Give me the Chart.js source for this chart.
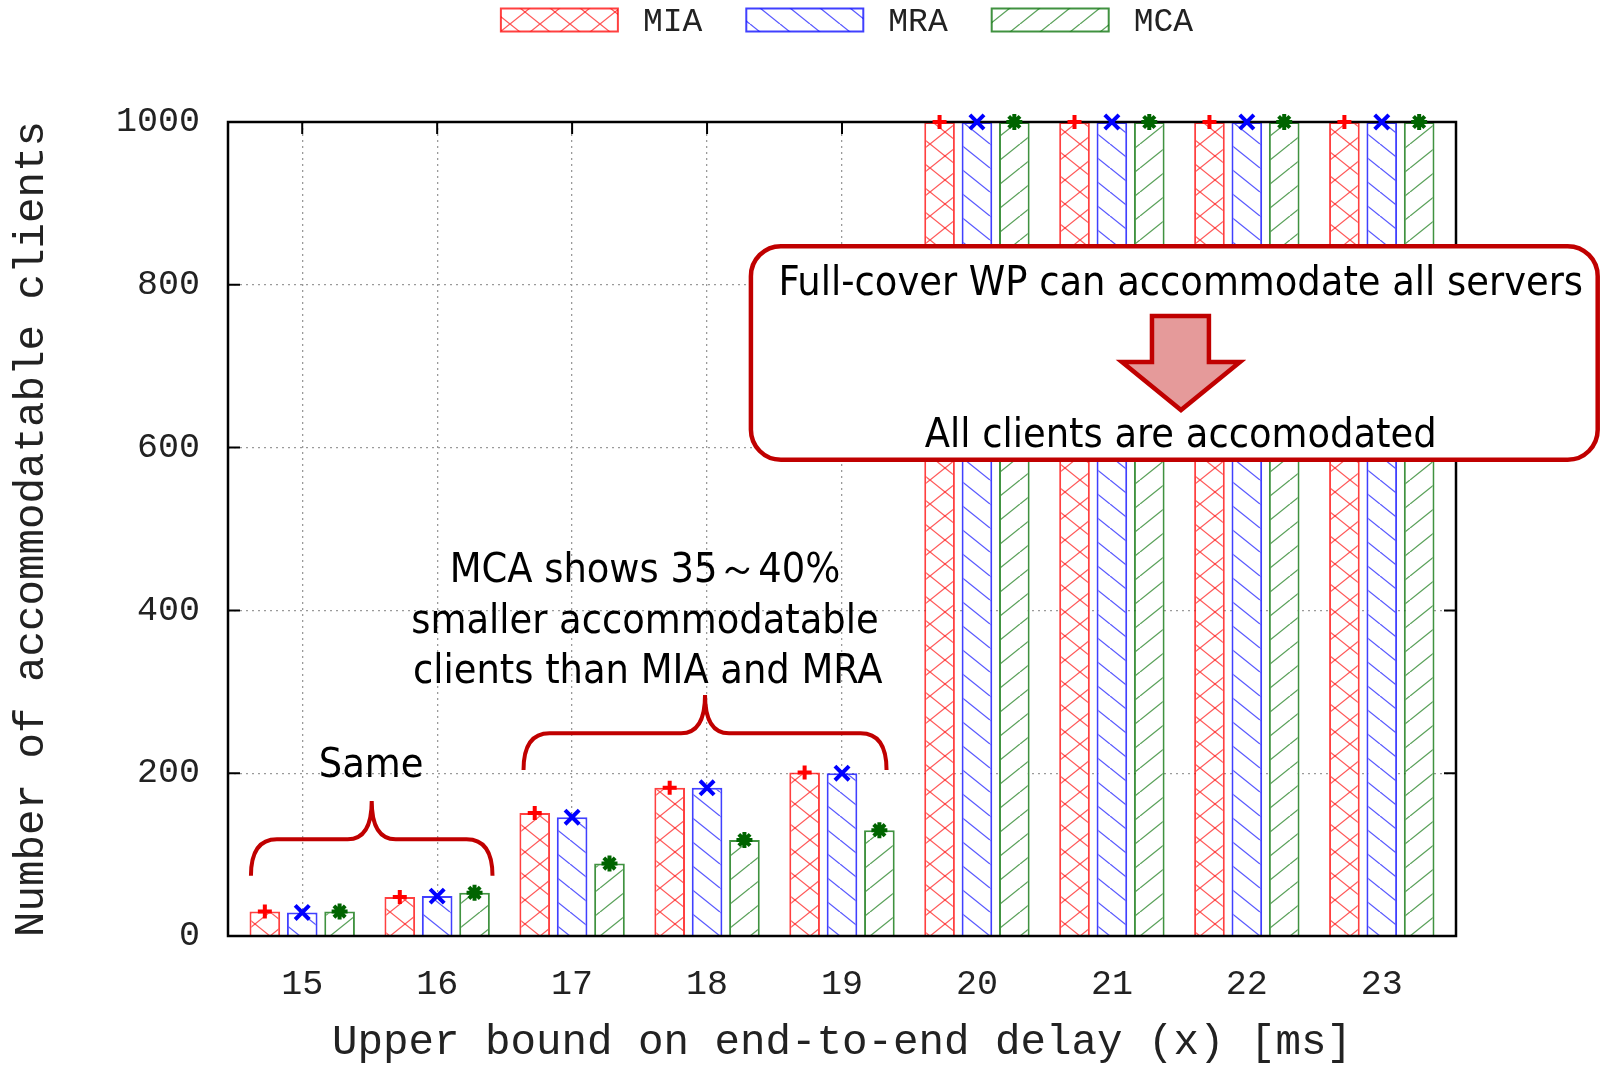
<!DOCTYPE html>
<html>
<head>
<meta charset="utf-8">
<script src="https://cdn.jsdelivr.net/npm/chart.js@4.4.1/dist/chart.umd.min.js"></script>
<style>
  html, body { margin: 0; padding: 0; background: #fff; }
  #wrap { width: 1606px; height: 1066px; }
</style>
</head>
<body>
<div id="wrap"><canvas id="delayCanvas" width="1606" height="1066"></canvas></div>
<script>
// data
const delays = [15, 16, 17, 18, 19, 20, 21, 22, 23];
const miaValues = [30, 48, 151, 182, 201, 1000, 1000, 1000, 1000];
const mraValues = [29, 49, 146, 182, 200, 1000, 1000, 1000, 1000];
const mcaValues = [30, 53, 89, 118, 130, 1000, 1000, 1000, 1000];
const yTicks = [0, 200, 400, 600, 800, 1000];
const seriesNames = ['MIA', 'MRA', 'MCA'];

const MONO = '"Courier New", "Liberation Mono", monospace';
const SANS = '"DejaVu Sans Condensed", "Liberation Sans Narrow", "Noto Sans", sans-serif';
const DARK_RED = '#c00000';

// gnuplot-like hatch fills (white under the lines)
function hatch(color, kind) {
    const w = 30, h = 24;
    const c = document.createElement('canvas');
    c.width = w; c.height = h;
    const g = c.getContext('2d');
    g.fillStyle = '#ffffff';
    g.fillRect(0, 0, w, h);
    g.strokeStyle = color;
    g.lineWidth = 1.3;
    const dirs = kind === 'cross' ? ['back', 'fwd'] : [kind];
    dirs.forEach(d => {
        for (let k = -1; k <= 1; k++) {
            g.beginPath();
            if (d === 'back') { g.moveTo(k * w, 0); g.lineTo(k * w + w, h); }
            else { g.moveTo(k * w, h); g.lineTo(k * w + w, 0); }
            g.stroke();
        }
    });
    return g.createPattern(c, 'repeat');
}

function points(values) {
    return delays.map((d, i) => ({x: d, y: values[i]}));
}

const markerStyles = [
    {pointStyle: 'cross', radius: 7, color: '#ff0000'},
    {pointStyle: 'crossRot', radius: 10, color: '#0000ff'},
    {pointStyle: 'star', radius: 8, color: '#006400'}
];

function brace(ctx, xl, xr, xc, yEnd, yMid, yTop) {
    const r1 = 26, r2 = 24;
    ctx.beginPath();
    ctx.moveTo(xl, yEnd);
    ctx.quadraticCurveTo(xl, yMid, xl + r1, yMid);
    ctx.lineTo(xc - r2, yMid);
    ctx.quadraticCurveTo(xc, yMid, xc, yTop);
    ctx.quadraticCurveTo(xc, yMid, xc + r2, yMid);
    ctx.lineTo(xr - r1, yMid);
    ctx.quadraticCurveTo(xr, yMid, xr, yEnd);
    ctx.stroke();
}

const gnuplotLook = {
    id: 'gnuplotLook',
    beforeDatasetsDraw(chart) {
        // inward ticks like gnuplot
        const {ctx, chartArea: a, scales: {x, y}} = chart;
        ctx.save();
        ctx.strokeStyle = '#000';
        ctx.lineWidth = 2;
        ctx.beginPath();
        yTicks.forEach(v => {
            const py = y.getPixelForValue(v);
            ctx.moveTo(a.left, py); ctx.lineTo(a.left + 12, py);
            ctx.moveTo(a.right, py); ctx.lineTo(a.right - 12, py);
        });
        delays.forEach(v => {
            const px = x.getPixelForValue(v);
            ctx.moveTo(px, a.bottom); ctx.lineTo(px, a.bottom - 12);
            ctx.moveTo(px, a.top); ctx.lineTo(px, a.top + 12);
        });
        ctx.stroke();
        ctx.restore();
    },
    afterDatasetsDraw(chart) {
        const {ctx, chartArea: a, scales: {x, y}} = chart;
        const px = v => x.getPixelForValue(v);
        const py = v => y.getPixelForValue(v);
        ctx.save();

        // frame
        ctx.strokeStyle = '#000';
        ctx.lineWidth = 2.5;
        ctx.strokeRect(a.left, a.top, a.right - a.left, a.bottom - a.top);

        // point markers on top of each bar
        chart.data.datasets.forEach((ds, i) => {
            const m = markerStyles[i];
            ctx.strokeStyle = m.color;
            ctx.fillStyle = m.color;
            ctx.lineWidth = 4;
            chart.getDatasetMeta(i).data.forEach(bar => {
                Chart.helpers.drawPoint(ctx, {pointStyle: m.pointStyle, radius: m.radius, borderWidth: 4, rotation: 0}, bar.x, bar.y);
            });
        });

        // braces
        ctx.strokeStyle = DARK_RED;
        ctx.lineWidth = 4;
        brace(ctx, px(14.62), px(16.41), px(15.515), py(74), py(119), py(166));
        brace(ctx, px(16.64), px(19.33), px(17.985), py(204), py(249), py(296));

        ctx.fillStyle = '#000';
        ctx.textAlign = 'center';
        ctx.textBaseline = 'alphabetic';
        ctx.font = '41px ' + SANS;
        ctx.fillText('Same', px(15.51), py(195));
        ctx.fillText('MCA shows 35～40%', px(17.54), py(435.5));
        ctx.fillText('smaller accommodatable', px(17.54), py(372));
        ctx.fillText('clients than MIA and MRA', px(17.56), py(310.5));

        // callout box
        const bx0 = px(18.325), bx1 = px(24.6), by0 = py(847.5), by1 = py(585);
        ctx.beginPath();
        ctx.roundRect(bx0, by0, bx1 - bx0, by1 - by0, 30);
        ctx.fillStyle = '#ffffff';
        ctx.fill();
        ctx.lineWidth = 4.5;
        ctx.strokeStyle = DARK_RED;
        ctx.stroke();

        // down arrow
        ctx.beginPath();
        ctx.moveTo(px(21.297), py(761.7));
        ctx.lineTo(px(21.719), py(761.7));
        ctx.lineTo(px(21.719), py(705.2));
        ctx.lineTo(px(21.949), py(705.2));
        ctx.lineTo(px(21.512), py(646.2));
        ctx.lineTo(px(21.075), py(705.2));
        ctx.lineTo(px(21.297), py(705.2));
        ctx.closePath();
        ctx.fillStyle = '#e59a9a';
        ctx.fill();
        ctx.lineWidth = 4.5;
        ctx.lineJoin = 'miter';
        ctx.stroke();

        ctx.fillStyle = '#000';
        ctx.font = '41px ' + SANS;
        ctx.fillText('Full-cover WP can accommodate all servers', px(21.51), py(787.5));
        ctx.fillText('All clients are accomodated', px(21.51), py(600.5));

        ctx.restore();
    },
    afterDraw(chart) {
        // legend on top, centered over the plot area
        const {ctx, chartArea: a} = chart;
        const boxW = 117, boxH = 23, gapText = 25, gapItem = 44, yc = 20;
        ctx.save();
        ctx.font = '33px ' + MONO;
        ctx.textBaseline = 'middle';
        ctx.textAlign = 'left';
        const items = chart.data.datasets.map(ds => ({ds, w: ctx.measureText(ds.label).width}));
        const total = items.reduce((s, it) => s + boxW + gapText + it.w, 0) + gapItem * (items.length - 1);
        let cx = (a.left + a.right) / 2 + 5 - total / 2;
        items.forEach(it => {
            ctx.fillStyle = it.ds.backgroundColor;
            ctx.fillRect(cx, yc - boxH / 2, boxW, boxH);
            ctx.strokeStyle = it.ds.borderColor;
            ctx.lineWidth = 2;
            ctx.strokeRect(cx, yc - boxH / 2, boxW, boxH);
            ctx.fillStyle = '#222';
            ctx.fillText(it.ds.label, cx + boxW + gapText, yc + 2);
            cx += boxW + gapText + it.w + gapItem;
        });
        ctx.restore();
    }
};

new Chart(document.getElementById('delayCanvas'), {
    type: 'bar',
    data: {
        datasets: [
            {
                label: seriesNames[0],
                data: points(miaValues),
                backgroundColor: hatch('rgba(255, 0, 0, 0.65)', 'cross'),
                borderColor: 'rgba(255, 0, 0, 0.75)',
                borderWidth: 2
            },
            {
                label: seriesNames[1],
                data: points(mraValues),
                backgroundColor: hatch('rgba(0, 0, 255, 0.65)', 'back'),
                borderColor: 'rgba(0, 0, 255, 0.75)',
                borderWidth: 2
            },
            {
                label: seriesNames[2],
                data: points(mcaValues),
                backgroundColor: hatch('rgba(0, 110, 0, 0.65)', 'fwd'),
                borderColor: 'rgba(0, 110, 0, 0.75)',
                borderWidth: 2
            }
        ]
    },
    options: {
        responsive: false,
        animation: false,
        categoryPercentage: 0.831,
        barPercentage: 0.82,
        layout: {padding: {top: 122, right: 150, bottom: 0, left: 0}},
        plugins: {
            legend: {display: false},
            tooltip: {enabled: false}
        },
        scales: {
            x: {
                type: 'linear',
                offset: false,
                min: 14.45,
                max: 23.55,
                afterBuildTicks: s => { s.ticks = delays.map(v => ({value: v})); },
                afterFit: s => { s.height = 130; },
                ticks: {
                    color: '#222',
                    font: {family: MONO, size: 35},
                    padding: 28,
                    maxRotation: 0,
                    callback: v => String(v)
                },
                grid: {color: '#9a9a9a', lineWidth: 1.3, drawTicks: false, offset: false},
                border: {display: false, dash: [2, 4]},
                title: {
                    display: true,
                    text: 'Upper bound on end-to-end delay (x) [ms]',
                    color: '#222',
                    font: {family: MONO, size: 42.5, lineHeight: 1},
                    padding: {top: 0, bottom: 2}
                }
            },
            y: {
                min: 0,
                max: 1000,
                afterBuildTicks: s => { s.ticks = yTicks.map(v => ({value: v})); },
                afterFit: s => { s.width = 228; },
                ticks: {
                    color: '#222',
                    font: {family: MONO, size: 35},
                    padding: 28,
                    callback: v => String(v)
                },
                grid: {color: '#9a9a9a', lineWidth: 1.3, drawTicks: false},
                border: {display: false, dash: [2, 4]},
                title: {
                    display: true,
                    text: 'Number of accommodatable clients',
                    color: '#222',
                    font: {family: MONO, size: 42.5, lineHeight: 1},
                    padding: {top: 10, bottom: 0}
                }
            }
        }
    },
    plugins: [gnuplotLook]
});
</script>
</body>
</html>
